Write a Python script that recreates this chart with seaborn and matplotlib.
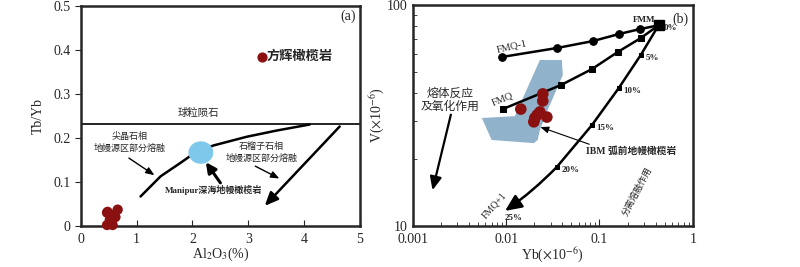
import numpy as np
import pandas as pd
import matplotlib
matplotlib.use('Agg')
import matplotlib.pyplot as plt
from matplotlib.patches import Ellipse, Polygon
from matplotlib.ticker import NullFormatter
import seaborn as sns

# panel (a): Tb/Yb vs Al2O3
harz_al = [0.48, 0.66, 0.57, 0.52, 0.47, 0.57, 0.47, 0.62]
harz_tbyb = [0.032, 0.037, 0.025, 0.014, 0.002, 0.002, 0.030, 0.020]
chondrite_tbyb = 0.231
melt_al = [1.07, 1.43, 1.79, 1.97, 2.37, 2.97, 3.50, 4.10]
melt_tbyb = [0.067, 0.113, 0.144, 0.160, 0.183, 0.203, 0.217, 0.231]
manipur = (2.15, 0.167)

# panel (b): V vs Yb (log-log)
fmm = (0.43, 81)
fmq1_yb = [0.009, 0.035, 0.085, 0.161, 0.27, 0.43]
fmq1_v = [58.2, 63.9, 68.7, 73.9, 77.8, 81]
fmq_yb = [0.0092, 0.039, 0.083, 0.157, 0.277, 0.43]
fmq_v = [33.8, 43.5, 51.3, 61.3, 70.9, 81]
fm_yb = [0.43, 0.277, 0.161, 0.083, 0.035]
fm_v = [81, 59.4, 42.1, 28.6, 18.5]
fm_labels = ['0%', '5%', '10%', '15%', '20%']
fm_end = (0.0092, 11.5)
ibm_yb = [0.01436, 0.0247, 0.0247, 0.0230, 0.0273, 0.0203, 0.0198, 0.0215]
ibm_v = [33.8, 39.6, 36.8, 32.8, 31.1, 30.8, 29.6, 31.8]
ibm_field_yb = [0.0230, 0.0395, 0.0405, 0.0279, 0.0230, 0.0218, 0.0198, 0.0070, 0.00549, 0.0124]
ibm_field_v = [56.4, 56.4, 48.2, 33.5, 27.2, 24.5, 23.7, 24.5, 30.8, 31.4]

sns.set_style('ticks')
plt.rcParams['font.family'] = ['Liberation Serif', 'Noto Sans CJK SC']
plt.rcParams['mathtext.fontset'] = 'stix'
plt.rcParams['axes.linewidth'] = 1.8

dred = '#8b1010'
cjk = ['Liberation Serif', 'Noto Sans CJK SC']

fig = plt.figure(figsize=(8, 2.67), dpi=100)
ax1 = fig.add_axes([0.101, 0.154, 0.349, 0.822])
ax2 = fig.add_axes([0.516, 0.154, 0.350, 0.827])

# ---- panel a
dfa = pd.DataFrame({'al': harz_al, 'tbyb': harz_tbyb})
sns.scatterplot(data=dfa, x='al', y='tbyb', ax=ax1, color=dred, s=55,
                edgecolor='none', zorder=5, clip_on=False)
ax1.axhline(chondrite_tbyb, color='black', lw=1.2)
dfm = pd.DataFrame({'al': melt_al, 'tbyb': melt_tbyb})
sns.lineplot(data=dfm, x='al', y='tbyb', ax=ax1, color='black', lw=1.8, sort=False)
ax1.add_patch(Ellipse(manipur, 0.42, 0.048, color='#7ec8ec', zorder=4))

ax1.annotate('', xy=(3.26, 0.041), xytext=(4.67, 0.231),
             arrowprops=dict(arrowstyle='-|>,head_length=0.8,head_width=0.35', color='black', lw=1.8))
ax1.annotate('', xy=(1.36, 0.112), xytext=(0.82, 0.158),
             arrowprops=dict(arrowstyle='-|>,head_length=0.5,head_width=0.2', color='black', lw=1))
ax1.annotate('', xy=(3.6, 0.105), xytext=(3.08, 0.139),
             arrowprops=dict(arrowstyle='-|>,head_length=0.5,head_width=0.2', color='black', lw=1))
ax1.annotate('', xy=(2.24, 0.145), xytext=(2.5, 0.098),
             arrowprops=dict(arrowstyle='-|>,head_length=0.6,head_width=0.3', color='black', lw=2.2,
                             shrinkA=0, shrinkB=0))

ax1.text(0.88, 0.19, '尖晶石相\n地幔源区部分熔融', ha='center', va='center', fontsize=6.5,
         family=cjk, linespacing=1.3)
ax1.text(3.24, 0.167, '石榴子石相\n地幔源区部分熔融', ha='center', va='center', fontsize=6.5,
         family=cjk, linespacing=1.3)
ax1.text(2.37, 0.082, 'Manipur深海地幔橄榄岩', ha='center', va='center', fontsize=6.5,
         family=cjk, fontweight='bold')
ax1.text(2.1, 0.257, '球粒陨石', ha='center', va='center', fontsize=7.5, family=cjk)
ax1.scatter([3.24], [0.385], color=dred, s=40, zorder=5)
ax1.text(3.33, 0.385, '方辉橄榄岩', ha='left', va='center', fontsize=9.5,
         family=cjk, fontweight='bold')
ax1.text(4.93, 0.478, '(a)', ha='right', va='center', fontsize=10)

ax1.set_xlim(0, 5)
ax1.set_ylim(0, 0.5)
ax1.set_xticks([0, 1, 2, 3, 4, 5])
ax1.set_yticks([0, 0.1, 0.2, 0.3, 0.4, 0.5])
ax1.set_yticklabels(['0', '0.1', '0.2', '0.3', '0.4', '0.5'])
ax1.tick_params(axis='x', direction='in', length=4, labelsize=10, pad=5)
ax1.tick_params(axis='y', direction='out', length=4, labelsize=10)
ax1.set_xlabel(r'Al$_2$O$_3$(%)', fontsize=10, labelpad=0)
ax1.set_ylabel('Tb/Yb', fontsize=10, labelpad=6)

# ---- panel b
ax2.set_xscale('log')
ax2.set_yscale('log')
ax2.add_patch(Polygon(list(zip(ibm_field_yb, ibm_field_v)), closed=True,
                      color='#90b2cb', zorder=1, lw=0))
df1 = pd.DataFrame({'yb': fmq1_yb, 'v': fmq1_v})
sns.lineplot(data=df1, x='yb', y='v', ax=ax2, color='black', lw=1.8, sort=False,
             marker='o', markersize=5.5, markeredgecolor='black', zorder=3)
df2 = pd.DataFrame({'yb': fmq_yb, 'v': fmq_v})
sns.lineplot(data=df2, x='yb', y='v', ax=ax2, color='black', lw=1.8, sort=False,
             marker='s', markersize=5, markeredgecolor='black', zorder=3)
df3 = pd.DataFrame({'yb': fm_yb, 'v': fm_v})
sns.lineplot(data=df3, x='yb', y='v', ax=ax2, color='black', lw=1.8, sort=False,
             marker='s', markersize=3.5, markeredgecolor='black', zorder=3)
ax2.plot([fmm[0]], [fmm[1]], marker='s', color='black', markersize=7, zorder=4)
ax2.annotate('', xy=fm_end, xytext=(fm_yb[-1], fm_v[-1]),
             arrowprops=dict(arrowstyle='-|>,head_length=1.0,head_width=0.45', color='black',
                             lw=1.8, connectionstyle='arc3,rad=-0.05', shrinkA=0))

dfi = pd.DataFrame({'yb': ibm_yb, 'v': ibm_v})
sns.scatterplot(data=dfi, x='yb', y='v', ax=ax2, color=dred, s=70, edgecolor='none', zorder=5)

for x, y, lab in zip(fm_yb, fm_v, fm_labels):
    ax2.text(x * 1.12, y * 0.97, lab, ha='left', va='center', fontsize=6.5, fontweight='bold')
ax2.text(0.0092 * 1.05, 10.9, '25%', ha='left', va='center', fontsize=6.5, fontweight='bold')
ax2.text(0.40, 86, 'FMM', ha='right', va='center', fontsize=6.5, fontweight='bold')
ax2.text(0.9, 86, '(b)', ha='right', va='center', fontsize=10)
ax2.text(0.0115, 64.5, 'FMQ-1', ha='center', va='center', fontsize=7.5, rotation=13)
ax2.text(0.0092, 37.5, 'FMQ', ha='center', va='center', fontsize=7.5, rotation=22)
ax2.text(0.0075, 12.3, 'FMQ+1', ha='center', va='center', fontsize=7, rotation=48)
ax2.text(0.25, 14.3, '分离熔融作用', ha='center', va='center', fontsize=6.5, rotation=62, family=cjk)
ax2.text(0.0025, 37, '熔体反应\n及氧化作用', ha='center', va='center', fontsize=8.5,
         family=cjk, linespacing=1.1)
ax2.annotate('', xy=(0.0016, 14.1), xytext=(0.0026, 32.8),
             arrowprops=dict(arrowstyle='-|>,head_length=0.8,head_width=0.35', color='black', lw=1.6))
ax2.annotate('', xy=(0.0218, 28.3), xytext=(0.083, 23.2),
             arrowprops=dict(arrowstyle='-|>,head_length=0.5,head_width=0.2', color='black', lw=0.8))
ax2.text(0.22, 21.8, 'IBM 弧前地幔橄榄岩', ha='center', va='center', fontsize=7, family=cjk,
         fontweight='bold')

ax2.set_xlim(0.001, 1)
ax2.set_ylim(10, 100)
ax2.set_xticks([0.001, 0.01, 0.1, 1])
ax2.set_xticklabels(['0.001', '0.01', '0.1', '1'])
ax2.set_yticks([10, 100])
ax2.set_yticklabels(['10', '100'])
ax2.xaxis.set_minor_formatter(NullFormatter())
ax2.yaxis.set_minor_formatter(NullFormatter())
ax2.tick_params(which='both', direction='in', labelsize=10)
ax2.tick_params(which='major', length=5)
ax2.tick_params(which='minor', length=3)
ax2.tick_params(axis='x', pad=5)
ax2.set_xlabel(r'Yb($\times$10$^{-6}$)', fontsize=10, labelpad=0)
ax2.set_ylabel(r'V($\times$10$^{-6}$)', fontsize=10, labelpad=0)

fig.savefig('out.png', dpi=100)
